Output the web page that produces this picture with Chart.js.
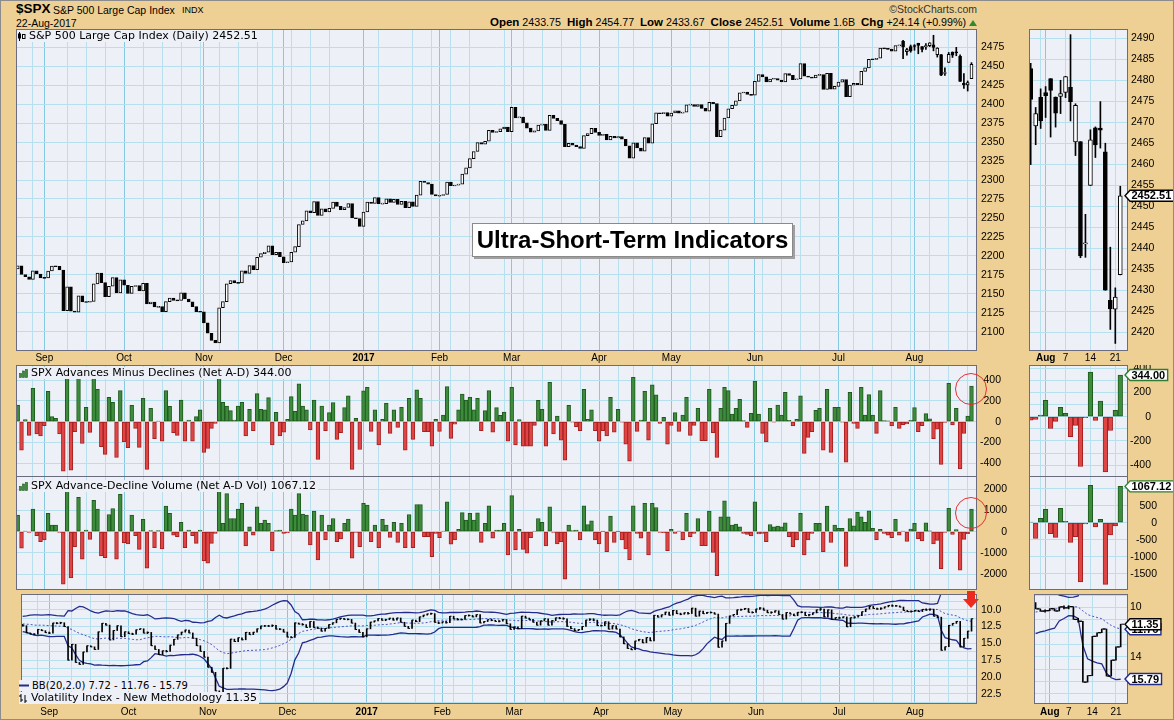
<!DOCTYPE html>
<html>
<head>
<meta charset="utf-8">
<script src="https://cdn.jsdelivr.net/npm/chart.js@4.4.1/dist/chart.umd.min.js"></script>
<style>
  html, body { margin: 0; padding: 0; }
  body { width: 1174px; height: 720px; background: #EFD094; position: relative; overflow: hidden;
         font-family: "Liberation Sans", Arial, sans-serif; }
  canvas { position: absolute; z-index: 1; }
  .t { position: absolute; white-space: nowrap; color: #000; line-height: 1; z-index: 5; }
  .lg { position: absolute; white-space: nowrap; font-family: "DejaVu Sans", Verdana, sans-serif;
        font-size: 11px; line-height: 12px; background: #EEF0F8; z-index: 5; padding-right: 2px;
        display: flex; align-items: center; }
  .lg svg { margin-right: 3px; }
  #frame { position: absolute; left: 0; top: 0; width: 1174px; height: 720px; box-sizing: border-box;
           border: 1px solid #8c8c8c; z-index: 10; pointer-events: none; }
  #banner { position: absolute; left: 472px; top: 223px; width: 319px; height: 32px; background: #fff;
            border: 1px solid #8a8a8a; box-shadow: 2px 2px 0 #a0a0a0; z-index: 6;
            font: bold 24px "Liberation Sans", Arial, sans-serif; line-height: 32px; text-align: center; }
  #marks { position: absolute; left: 0; top: 0; z-index: 7; pointer-events: none; }
  .q b { font-size: 11.5px; }
  .tri { display: inline-block; width: 0; height: 0; border-left: 4px solid transparent;
         border-right: 4px solid transparent; border-bottom: 6px solid #2E8B2E; margin-left: 3px; }
</style>
</head>
<body>
<div class="t" style="left:16px;top:2px;font-size:13.5px;font-weight:bold;">$SPX</div>
<div class="t" style="left:53px;top:5px;font-size:10.5px;">S&amp;P 500 Large Cap Index</div>
<div class="t" style="left:182px;top:6px;font-size:9px;">INDX</div>
<div class="t" style="left:16px;top:18px;font-size:10.5px;">22-Aug-2017</div>
<div class="t" style="right:197px;top:4px;font-size:10.5px;color:#333;">&copy;StockCharts.com</div>
<div class="t q" style="right:197px;top:17px;font-size:10.7px;">
  <b>Open</b> 2433.75&nbsp; <b>High</b> 2454.77&nbsp; <b>Low</b> 2433.67&nbsp; <b>Close</b> 2452.51&nbsp; <b>Volume</b> 1.6B&nbsp; <b>Chg</b> +24.14 (+0.99%)<span class="tri"></span>
</div>

<canvas id="cPrice"></canvas>
<canvas id="cAD"></canvas>
<canvas id="cADV"></canvas>
<canvas id="cVIX"></canvas>
<canvas id="mPrice"></canvas>
<canvas id="mAD"></canvas>
<canvas id="mADV"></canvas>
<canvas id="mVIX"></canvas>

<div class="lg" style="left:17px;top:30px;">
  <svg width="9" height="9"><rect x="1" y="1.5" width="3" height="5" fill="#000"/><rect x="5.5" y="2.5" width="2.5" height="4" fill="#fff" stroke="#000" stroke-width="1"/><line x1="2.5" y1="0" x2="2.5" y2="9" stroke="#000"/></svg>S&amp;P 500 Large Cap Index (Daily) 2452.51</div>
<div class="lg" style="left:19px;top:367px;">
  <svg width="9" height="9"><rect x="0.5" y="4.5" width="2" height="4" fill="#3C8C3C" stroke="#1E5A1E" stroke-width="0.6"/><rect x="3.5" y="2" width="2" height="6.5" fill="#3C8C3C" stroke="#1E5A1E" stroke-width="0.6"/><rect x="6.5" y="0.5" width="2" height="8" fill="#3C8C3C" stroke="#1E5A1E" stroke-width="0.6"/></svg>SPX Advances Minus Declines (Net A-D) 344.00</div>
<div class="lg" style="left:19px;top:480px;">
  <svg width="9" height="9"><rect x="0.5" y="4.5" width="2" height="4" fill="#3C8C3C" stroke="#1E5A1E" stroke-width="0.6"/><rect x="3.5" y="2" width="2" height="6.5" fill="#3C8C3C" stroke="#1E5A1E" stroke-width="0.6"/><rect x="6.5" y="0.5" width="2" height="8" fill="#3C8C3C" stroke="#1E5A1E" stroke-width="0.6"/></svg>SPX Advance-Decline Volume (Net A-D Vol) 1067.12</div>
<div class="lg" style="left:19px;top:680px;font-size:10px;line-height:11px;">
  <svg width="10" height="9"><line x1="0" y1="4.5" x2="10" y2="4.5" stroke="#222C8C" stroke-width="2"/></svg>BB(20,2.0) 7.72 - 11.76 - 15.79</div>
<div class="lg" style="left:19px;top:692px;">
  <svg width="9" height="9"><line x1="2" y1="0" x2="2" y2="8" stroke="#000"/><line x1="0" y1="2" x2="2" y2="2" stroke="#000"/><line x1="2" y1="6" x2="4" y2="6" stroke="#000"/><line x1="6" y1="1" x2="6" y2="9" stroke="#000"/><line x1="6" y1="7" x2="8" y2="7" stroke="#000"/></svg>Volatility Index - New Methodology 11.35</div>

<div id="banner">Ultra-Short-Term Indicators</div>

<svg id="marks" width="1174" height="720">
  <circle cx="971" cy="389" r="15.5" fill="none" stroke="#E53030" stroke-width="1"/>
  <circle cx="971" cy="513" r="15.5" fill="none" stroke="#E53030" stroke-width="1"/>
  <polygon points="967,591 975,591 975,599 979,599 971,608 963,599 967,599" fill="#EC2A1E"/>
</svg>
<div id="frame"></div>

<script>
// ---------------- data ----------------
// exchange holidays inside the window (used to build the trading-day axis)
const holidays = ['2016-09-05', '2016-11-24', '2016-12-26', '2017-01-02', '2017-01-16',
                  '2017-02-20', '2017-04-14', '2017-05-29', '2017-07-04'];
const monthNames = ['Jan', 'Feb', 'Mar', 'Apr', 'May', 'Jun', 'Jul', 'Aug', 'Sep', 'Oct', 'Nov', 'Dec'];

// S&P 500 daily close, 23-Aug-2016 .. 22-Aug-2017
const spxClose = [
  2186.90, 2175.44, 2172.47, 2169.04, 2180.38, 2176.12, 2170.95,
  2170.86, 2179.98, 2186.48, 2186.16, 2181.30, 2127.81, 2159.04, 2127.02, 2125.77, 2147.26, 2139.16,
  2139.12, 2139.76, 2163.12, 2177.18, 2164.69, 2146.10, 2159.93, 2171.37, 2151.13, 2168.27,
  2161.20, 2150.49, 2159.73, 2160.77, 2153.74, 2163.66, 2136.73, 2139.18, 2132.55, 2132.98, 2126.50,
  2139.60, 2144.29, 2141.34, 2141.16, 2151.33, 2143.16, 2139.43, 2133.04, 2126.41, 2126.15,
  2111.72, 2097.94, 2088.66, 2085.18, 2131.52, 2139.56, 2163.26, 2167.48, 2164.45, 2164.20, 2180.39,
  2176.94, 2187.12, 2181.90, 2198.18, 2202.94, 2204.72, 2213.35, 2201.72, 2204.66, 2198.81,
  2191.08, 2191.95, 2204.71, 2212.23, 2241.35, 2246.19, 2259.53, 2256.96, 2271.72, 2253.28, 2262.03,
  2258.07, 2262.53, 2270.76, 2265.18, 2260.96, 2263.79, 2268.88, 2249.92, 2249.26, 2238.83,
  2257.83, 2270.75, 2269.00, 2276.98, 2268.90, 2268.90, 2275.32, 2270.44, 2274.64, 2267.89,
  2271.89, 2263.69, 2271.31, 2265.20, 2280.07, 2298.37, 2296.68, 2294.69, 2280.90, 2278.87,
  2279.55, 2280.85, 2297.42, 2292.56, 2293.08, 2294.67, 2307.87, 2316.10, 2328.25, 2337.58,
  2349.25, 2347.22, 2351.16, 2365.38, 2362.82, 2363.81, 2367.34, 2369.75, 2363.64,
  2395.96, 2381.92, 2383.12, 2375.31, 2368.39, 2362.98, 2364.87, 2372.60, 2373.47, 2365.45, 2385.26,
  2381.38, 2378.25, 2373.47, 2344.02, 2348.45, 2345.96, 2343.98, 2341.59, 2358.57, 2361.13, 2368.06, 2362.72,
  2358.84, 2360.16, 2352.95, 2357.49, 2355.54, 2357.16, 2353.78, 2344.93, 2328.95, 2349.01,
  2342.19, 2338.17, 2355.84, 2348.69, 2374.15, 2388.61, 2387.45, 2388.77, 2384.20,
  2388.33, 2391.17, 2388.13, 2389.52, 2399.29, 2399.38, 2396.92, 2399.63, 2394.44, 2390.90, 2402.32,
  2400.67, 2357.03, 2365.72, 2381.73, 2394.02, 2398.42, 2404.39, 2415.07, 2415.82, 2412.91, 2411.80,
  2430.06, 2439.07, 2436.10, 2429.33, 2433.14, 2433.79, 2431.77, 2429.39, 2440.35, 2437.92, 2432.46,
  2433.15, 2453.46, 2437.03, 2435.61, 2434.50, 2438.30, 2439.07, 2419.38, 2440.69, 2419.70, 2423.41,
  2429.01, 2432.54, 2409.75, 2425.18, 2427.43, 2425.53, 2443.25, 2447.83, 2459.27, 2459.14,
  2460.61, 2473.83, 2473.45, 2472.54, 2469.91, 2477.13, 2477.83, 2475.42, 2472.10, 2470.30,
  2476.35, 2477.57, 2472.16, 2476.83, 2480.91, 2474.92, 2474.02, 2438.21, 2441.32, 2465.84,
  2464.61, 2468.11, 2430.01, 2425.55, 2428.37, 2452.51
];
const spxPrevClose = 2182.64;
// full OHLC for the last 19 sessions (27-Jul .. 22-Aug), shown in the zoom panel
const spxOpenRecent = [2482.76, 2469.12, 2475.94, 2477.10, 2480.38, 2476.03, 2476.14, 2477.14, 2478.35, 2465.35,
                       2465.38, 2441.04, 2454.96, 2468.66, 2468.63, 2462.95, 2427.64, 2425.50, 2433.75];
const spxHighRecent = [2484.04, 2473.53, 2477.96, 2478.51, 2480.38, 2476.03, 2480.00, 2480.95, 2490.87, 2474.41,
                       2465.38, 2448.09, 2468.22, 2468.90, 2474.93, 2465.02, 2440.27, 2430.58, 2454.77];
const spxLowRecent  = [2459.93, 2464.66, 2468.53, 2471.14, 2466.48, 2468.85, 2472.08, 2475.88, 2470.32, 2462.08,
                       2437.75, 2437.85, 2454.96, 2461.61, 2463.86, 2430.01, 2420.69, 2417.35, 2433.67];

// SPX net advances minus declines
const netAD = [
  161, -274, 20, -132, 322, -119, -138, -39, 293, 48,
  32, -119, -476, 470, -467, -97, 470, -210, 138, -103,
  470, 312, -241, -315, 235, 187, -345, 299, -193, -251,
  158, -64, -248, 225, -460, 129, -164, 5, -187, 299,
  148, -106, -132, 209, -187, 16, -187, 48, 113, -296,
  -258, -64, -16, 480, 187, 151, 106, 16, 151, 187,
  -138, 119, -87, 270, 119, 113, 232, -225, 90, -138,
  -100, 23, 241, 100, 364, 151, 113, -80, 209, -364,
  151, -87, 87, 183, -171, -106, 135, 248, -460, 32,
  -268, 296, 332, -93, 113, -225, 23, 177, -113, 113,
  -55, 138, -274, 225, -171, 306, 225, -97, -97, -235,
  23, -93, 64, 338, -161, -23, 113, 267, 209, 235,
  113, 225, -87, 106, 299, -100, 135, 60, 93, -187,
  332, -225, 20, -235, -235, -235, -35, 206, 119, -235,
  380, -119, 55, -177, -370, 158, -3, -48, -87, 312,
  23, 113, -87, -187, -87, -138, 235, -100, 119, -3,
  -216, -380, 428, -93, 16, 293, -177, 354, 258, -16,
  42, -216, -35, 87, -93, 64, 235, -132, -35, 129,
  -184, -184, 312, -106, -345, 129, 332, 299, 74, 129,
  216, 10, -55, 80, 390, 74, -113, -196, 129, -3,
  161, 64, 283, 13, -42, 23, 248, -306, -151, -97,
  109, 129, -274, 312, -296, 138, 138, -3, -390, 283,
  -16, -64, 332, 64, 261, 64, -113, 299, 10, 8,
  -42, 138, -64, -28, -22, 14, 136, -97, -39, 78,
  28, -164, -72, -411, -8, 369, -31, 128, -456, -114,
  53, 344
];

// SPX net advance-decline volume
const netADVol = [
  780, -780, 30, -30, 1060, -190, -470, -390, 860, 310,
  310, -30, -2465, 2300, -2180, -700, 1620, -1290, 80, -360,
  1480, 1060, -1140, -1220, 810, 1090, -1290, 1760, -515, -580,
  780, -190, -830, 580, -1720, 50, -750, 50, -810, 1200,
  860, -160, -230, 440, -750, 80, -190, -550, 80, -1360,
  -1480, -550, -80, 2300, 390, 1790, 620, 620, 1060, 1330,
  -670, 230, -160, 1170, 390, 550, 390, -900, 50, 80,
  -80, -50, 1060, 780, 1790, 830, 780, -620, 970, -1330,
  780, -390, 310, 620, -470, -340, 390, 590, -1250, -30,
  -700, 1330, 1250, -470, 310, -750, 580, 310, -265, 440,
  -500, 390, -750, 810, -750, 1280, 1280, -230, -230, -1170,
  -80, -280, 20, 1400, -590, -390, 110, 900, 550, 860,
  550, 890, -500, 390, 1220, -310, 80, 80, 390, -1090,
  1700, -860, 110, -830, -1010, -280, 20, 620, 440, -670,
  1170, -30, -580, -470, -2230, 310, 50, 80, -390, 1220,
  340, 510, -390, -580, 15, -940, 730, -500, 10, -390,
  -810, -1330, 1220, -80, -300, 1330, -1090, 1330, 1140, -30,
  -50, -890, 110, -80, 20, -390, 860, -230, -80, 620,
  -660, -660, 970, -980, -2070, 700, 1450, 700, 310, 360,
  230, -80, -130, -200, 1400, -110, -80, -470, 340, 230,
  260, 230, 420, -230, -700, -390, 860, -1090, -390, -80,
  390, 390, -940, 1200, -510, 310, 160, 160, -1640, 620,
  280, 920, 700, 440, 980, 160, -390, 110, -80, -160,
  -280, 580, -160, 20, -461, 127, 392, -324, -431, 422,
  39, -578, -412, -1745, -39, 1098, -127, 98, -1814, -363,
  -98, 1067.12
];

// CBOE Volatility Index close; 19 sessions before the window feed the Bollinger Bands
const vixPrior = [12.83, 12.72, 11.87, 12.44, 13.37, 12.86, 12.42, 11.39, 11.50, 11.66,
                  12.05, 11.68, 11.55, 11.81, 12.64, 12.19, 11.43, 11.34, 12.27];
const vixClose = [
  12.38, 13.45, 13.63, 13.65, 12.94, 13.12, 13.42,
  13.48, 11.98, 12.02, 11.94, 12.51, 17.50, 15.16, 17.85, 18.14, 16.30, 15.37, 15.53, 15.92, 13.30,
  12.02, 12.29, 14.50, 13.10, 12.39, 14.02, 13.29,
  13.57, 13.63, 12.99, 12.84, 13.48, 13.38, 15.36, 15.91, 16.69, 16.12, 16.21, 15.28, 14.41, 13.75,
  13.34, 13.02, 13.46, 14.24, 15.36, 16.19, 17.06,
  18.56, 19.32, 22.08, 22.51, 18.71, 18.74, 14.38, 14.74, 14.17, 14.48, 13.37, 13.72, 13.35, 12.85,
  12.42, 12.41, 12.43, 12.34, 12.88, 12.90, 13.33,
  14.07, 14.12, 11.97, 12.14, 12.22, 12.64, 11.75, 12.64, 12.72, 13.19, 12.79, 12.20, 11.95, 11.45,
  11.27, 11.43, 11.44, 11.99, 12.95, 13.37, 14.04,
  12.85, 11.85, 11.67, 11.32, 11.56, 11.49, 11.26, 11.54, 11.23, 11.87, 12.48, 12.78, 11.54, 11.77,
  11.07, 10.81, 10.63, 10.58, 11.88, 11.99,
  11.81, 11.93, 10.97, 11.37, 11.45, 11.45, 10.88, 10.85, 11.07, 10.74, 11.97, 11.76, 11.49, 11.57,
  11.74, 11.71, 11.47, 12.09, 12.92,
  12.54, 12.81, 10.96, 11.24, 11.45, 11.86, 12.30, 11.66, 11.35, 12.30, 11.63, 11.21, 11.28, 11.34,
  12.47, 12.81, 13.12, 12.96, 12.50, 11.53, 11.42, 11.54, 12.37,
  12.38, 11.79, 12.89, 12.39, 12.87, 14.05, 15.07, 15.77, 15.96, 14.66, 14.42, 14.93, 14.15, 14.63,
  10.84, 11.10, 10.76, 10.36, 10.82,
  10.11, 10.59, 10.68, 10.46, 10.57, 9.77, 10.96, 10.21, 10.60, 10.40, 10.42, 10.65, 15.59, 14.66,
  12.04, 10.93, 10.72, 10.02, 9.99, 9.81, 10.38, 10.41,
  9.89, 9.75, 10.07, 10.45, 10.39, 10.16, 10.70, 11.40, 10.42, 10.64, 10.90, 10.38, 10.37, 10.86,
  10.75, 10.48, 10.02, 9.90, 11.06, 10.03, 11.44, 11.18,
  11.22, 11.07, 12.54, 11.19, 11.11, 10.89, 10.30, 9.90, 9.51, 9.82, 9.89, 9.79, 9.58, 9.36,
  9.43, 9.43, 9.60, 10.11, 10.29, 10.26,
  10.09, 10.28, 9.95, 10.03, 9.93, 10.96, 11.11, 16.04, 15.51, 12.33, 12.04, 11.74, 15.55, 14.26,
  13.19, 11.35
];
// latest Bollinger Band readings as printed on the chart: lower, middle, upper
const bbLatest = [7.72, 11.76, 15.79];

// axis tick labels
const priceTicks = [2100, 2125, 2150, 2175, 2200, 2225, 2250, 2275, 2300, 2325, 2350, 2375, 2400, 2425, 2450, 2475];
const adTicks = [-400, -200, 0, 200, 400];
const advTicks = [-2000, -1000, 0, 1000, 2000];
const vixTicks = [10, 12.5, 15, 17.5, 20, 22.5];
const miniPriceTicks = [2420, 2425, 2430, 2435, 2440, 2445, 2450, 2455, 2460, 2465, 2470, 2475, 2480, 2485, 2490];
const miniAdTicks = [-400, -200, 0, 200, 400];
const miniAdvTicks = [-1500, -1000, -500, 0, 500, 1000];
const miniVixTicks = [10, 12, 14, 16];
const miniDateTicks = [{ i: 3, t: 'Aug', bold: true }, { i: 7, t: '7' }, { i: 12, t: '14' }, { i: 17, t: '21' }];

// ---------------- derived series ----------------
const tradingDays = [];
for (let t = Date.UTC(2016, 7, 23); t <= Date.UTC(2017, 7, 22); t += 86400000) {
  const d = new Date(t);
  const wd = d.getUTCDay();
  if (wd === 0 || wd === 6 || holidays.includes(d.toISOString().slice(0, 10))) continue;
  tradingDays.push(d);
}
const N = spxClose.length;
const R = spxOpenRecent.length;
const idx = [...Array(N).keys()];
const recentIdx = idx.slice(N - R);

const monthStart = new Set(idx.filter(i => i > 0 && tradingDays[i].getUTCMonth() !== tradingDays[i - 1].getUTCMonth()));
const gridDays = idx.filter(i => monthStart.has(i) || tradingDays[i].getUTCDay() === 1);
const monthLabels = [...monthStart].map(i => {
  const m = tradingDays[i].getUTCMonth();
  return m === 0 ? { i, t: String(tradingDays[i].getUTCFullYear()), bold: true } : { i, t: monthNames[m] };
});

const spxOpen = idx.map(i => i >= N - R ? spxOpenRecent[i - N + R] : (i === 0 ? spxPrevClose : spxClose[i - 1]));
const spxHigh = idx.map(i => i >= N - R ? spxHighRecent[i - N + R] : Math.max(spxOpen[i], spxClose[i]));
const spxLow = idx.map(i => i >= N - R ? spxLowRecent[i - N + R] : Math.min(spxOpen[i], spxClose[i]));

const P = vixPrior.length;
const vixSeries = vixPrior.concat(vixClose);
const vixOpen = idx.map(i => vixSeries[i + P - 1]);
const bbMid = [], bbUp = [], bbLo = [];
idx.forEach(i => {
  const win = vixSeries.slice(i + P - 19, i + P + 1);
  const m = win.reduce((s, v) => s + v, 0) / win.length;
  const sd = Math.sqrt(win.reduce((s, v) => s + (v - m) * (v - m), 0) / win.length);
  bbMid.push(m); bbUp.push(m + 2 * sd); bbLo.push(m - 2 * sd);
});

// ---------------- drawing helpers ----------------
const PLOT_BG = '#EEF0F8';
const GRID = '#B6E0EE';
const GRID_MONTH = '#85C8E2';
const FRAME = '#6C6C80';
const UP_FILL = '#3C8C3C', UP_LINE = '#1E5A1E';
const DN_FILL = '#E04545', DN_LINE = '#A52020';
const BAND = '#222C8C';

function steps(a, b, s) {
  const out = [];
  for (let v = a; v <= b + 1e-9; v += s) out.push(+v.toFixed(4));
  return out;
}

function drawTag(ctx, x, y, text, color) {
  ctx.font = 'bold 11px "Liberation Sans", Arial';
  const w = ctx.measureText(text).width + 3;
  ctx.beginPath();
  ctx.moveTo(x, y);
  ctx.lineTo(x + 5, y - 5.5);
  ctx.lineTo(x + 6 + w, y - 5.5);
  ctx.lineTo(x + 6 + w, y + 5.5);
  ctx.lineTo(x + 5, y + 5.5);
  ctx.closePath();
  ctx.fillStyle = '#fff';
  ctx.fill();
  ctx.lineWidth = 1.4;
  ctx.strokeStyle = color;
  ctx.stroke();
  ctx.fillStyle = '#000';
  ctx.textAlign = 'left';
  ctx.textBaseline = 'middle';
  ctx.fillText(text, x + 6.5, y + 0.5);
}

const decoConfig = {};
const decoPlugin = {
  id: 'deco',
  beforeDraw(chart) {
    const { ctx, chartArea: a } = chart;
    ctx.save();
    ctx.fillStyle = PLOT_BG;
    ctx.fillRect(a.left, a.top, a.right - a.left, a.bottom - a.top);
    ctx.restore();
  },
  afterDraw(chart) {
    const o = decoConfig[chart.canvas.id];
    const { ctx, chartArea: a, scales } = chart;
    ctx.save();
    ctx.strokeStyle = FRAME;
    ctx.lineWidth = 1;
    ctx.strokeRect(a.left + 0.5, a.top + 0.5, a.right - a.left - 1, a.bottom - a.top - 1);
    ctx.fillStyle = '#000';
    ctx.textBaseline = 'middle';
    ctx.font = '10.5px "Liberation Sans", Arial';
    ctx.textAlign = o.yAlign;
    o.yLabels.forEach(v => {
      ctx.fillText(o.dec ? v.toFixed(o.dec) : String(v), a.right + o.yOff, scales.y.getPixelForValue(v));
    });
    (o.xLabels || []).forEach(l => {
      ctx.font = (l.bold ? 'bold ' : '') + '10px "Liberation Sans", Arial';
      ctx.textAlign = 'center';
      ctx.fillText(l.t, scales.x.getPixelForValue(l.i), a.bottom + o.xOff);
    });
    (o.tags || []).forEach(t => drawTag(ctx, a.right - 3, scales.y.getPixelForValue(t.v), t.v.toFixed(2), t.color));
    ctx.restore();
  }
};

function makePanel(id, box, xr, yr, datasets, deco) {
  const cv = document.getElementById(id);
  const W = box.w + deco.padR, H = box.h + deco.padB;
  cv.width = W;
  cv.height = H;
  Object.assign(cv.style, { left: box.x + 'px', top: box.y + 'px', width: W + 'px', height: H + 'px' });
  decoConfig[id] = deco;
  return new Chart(cv, {
    type: 'bar',
    data: { datasets },
    options: {
      responsive: false,
      animation: false,
      events: [],
      layout: { padding: { left: 0, top: 0, right: deco.padR, bottom: deco.padB } },
      plugins: { legend: { display: false }, tooltip: { enabled: false } },
      scales: {
        x: {
          type: 'linear', min: xr[0], max: xr[1], offset: false,
          ticks: { display: false }, border: { display: false },
          afterBuildTicks: s => { s.ticks = deco.gridX.map(v => ({ value: v })); },
          grid: { drawTicks: false, offset: false, color: c => deco.monthX.has(c.tick.value) ? GRID_MONTH : GRID }
        },
        y: {
          type: 'linear', min: yr[0], max: yr[1], reverse: !!deco.reverse,
          ticks: { display: false }, border: { display: false },
          afterBuildTicks: s => { s.ticks = deco.gridY.map(v => ({ value: v })); },
          grid: { drawTicks: false, color: GRID }
        }
      }
    },
    plugins: [decoPlugin]
  });
}

function candleSets(list, shift, thick) {
  const minBody = thick > 3 ? 0.25 : 1.3;
  return [
    {
      type: 'bar', order: 1, grouped: false, barThickness: thick, borderWidth: 1, borderSkipped: false,
      borderColor: '#000',
      backgroundColor: list.map(i => spxClose[i] >= spxOpen[i] ? '#fff' : '#000'),
      data: list.map(i => {
        let lo = Math.min(spxOpen[i], spxClose[i]), hi = Math.max(spxOpen[i], spxClose[i]);
        if (hi - lo < minBody) { const m = (hi + lo) / 2; lo = m - minBody / 2; hi = m + minBody / 2; }
        return { x: i - shift, y: [lo, hi] };
      })
    },
    {
      type: 'bar', order: 2, grouped: false, barThickness: 1, backgroundColor: '#000',
      data: recentIdx.filter(i => list.includes(i)).map(i => ({ x: i - shift, y: [spxLow[i], spxHigh[i]] }))
    }
  ];
}

function histSet(values, list, shift, thick) {
  return [{
    type: 'bar', grouped: false, barThickness: thick, borderWidth: 1, borderSkipped: false,
    backgroundColor: list.map(i => values[i] >= 0 ? UP_FILL : DN_FILL),
    borderColor: list.map(i => values[i] >= 0 ? UP_LINE : DN_LINE),
    data: list.map(i => ({ x: i - shift, y: values[i] }))
  }];
}

function vixSets(list, shift, tick, bothTicks) {
  const sets = [
    {
      type: 'bar', order: 1, grouped: false, barThickness: 1, backgroundColor: '#000',
      data: list.map(i => {
        let lo = Math.min(vixOpen[i], vixClose[i]), hi = Math.max(vixOpen[i], vixClose[i]);
        if (hi - lo < 0.15) { lo -= 0.08; hi += 0.08; }
        return { x: i - shift, y: [lo, hi] };
      })
    },
    {
      type: 'scatter', order: 1, pointStyle: 'line', pointRadius: tick, borderColor: '#000', borderWidth: 1,
      data: list.map(i => ({ x: i - shift + tick * 0.3, y: vixClose[i] }))
    },
    { type: 'line', order: 3, borderColor: BAND, borderWidth: 1.3, pointRadius: 0, fill: false,
      data: list.map(i => ({ x: i - shift, y: bbUp[i] })) },
    { type: 'line', order: 3, borderColor: BAND, borderWidth: 1.3, pointRadius: 0, fill: false,
      data: list.map(i => ({ x: i - shift, y: bbLo[i] })) },
    { type: 'line', order: 3, borderColor: '#4A56BC', borderWidth: 1, borderDash: [2, 2], pointRadius: 0, fill: false,
      data: list.map(i => ({ x: i - shift, y: bbMid[i] })) }
  ];
  if (bothTicks) {
    sets.push({
      type: 'scatter', order: 1, pointStyle: 'line', pointRadius: tick, borderColor: '#000', borderWidth: 1,
      data: list.map(i => ({ x: i - shift - tick * 0.3, y: vixOpen[i] }))
    });
  }
  return sets;
}

// ---------------- layout ----------------
const L = { x: 16, w: 961 };
const M = { x: 1029, w: 99 };
const rows = {
  price: { y: 29, h: 322 },
  ad: { y: 365, h: 112 },
  adv: { y: 476, h: 114 },
  vix: { y: 589, h: 115 }
};
const xMain = [-0.45, N - 1 + 1.45];
const xMini = [-0.34, R - 1 + 1.55];

const gridMain = { gridX: gridDays, monthX: monthStart };
const miniShift = N - R;
const gridMini = {
  gridX: gridDays.filter(i => i >= miniShift).map(i => i - miniShift),
  monthX: new Set([...monthStart].filter(i => i >= miniShift).map(i => i - miniShift))
};

makePanel('cPrice', { ...L, ...rows.price }, xMain, [2074.55, 2499.13], candleSets(idx, 0, 3),
  { ...gridMain, gridY: steps(2075, 2500, 25), yLabels: priceTicks, yAlign: 'left', yOff: 4,
    xLabels: monthLabels, xOff: 7, padR: 36, padB: 14 });
makePanel('cAD', { ...L, ...rows.ad }, xMain, [-533, 546], histSet(netAD, idx, 0, 3.8),
  { ...gridMain, gridY: steps(-400, 400, 200), yLabels: adTicks, yAlign: 'right', yOff: 24, padR: 36, padB: 0 });
makePanel('cADV', { ...L, ...rows.adv }, xMain, [-2744, 2621], histSet(netADVol, idx, 0, 3.8),
  { ...gridMain, gridY: steps(-2000, 2000, 1000), yLabels: advTicks, yAlign: 'right', yOff: 30, padR: 36, padB: 0 });
makePanel('cVIX', { ...L, ...rows.vix }, xMain, [7.66, 24.04], vixSets(idx, 0, 0.8, false),
  { ...gridMain, gridY: steps(8.75, 23.75, 1.25), yLabels: vixTicks, yAlign: 'left', yOff: 4, dec: 1,
    reverse: true, xLabels: monthLabels, xOff: 8, padR: 36, padB: 16 });

makePanel('mPrice', { ...M, ...rows.price }, xMini, [2415.55, 2492.21], candleSets(recentIdx, miniShift, 4),
  { ...gridMini, gridY: steps(2420, 2490, 5), yLabels: miniPriceTicks, yAlign: 'left', yOff: 3,
    xLabels: miniDateTicks, xOff: 7, padR: 46, padB: 14,
    tags: [{ v: spxClose[N - 1], color: '#000' }] });
makePanel('mAD', { ...M, ...rows.ad }, xMini, [-497.5, 426.6], histSet(netAD, recentIdx, miniShift, 4.6),
  { ...gridMini, gridY: steps(-400, 400, 100), yLabels: miniAdTicks, yAlign: 'right', yOff: 23, padR: 46, padB: 0,
    tags: [{ v: netAD[N - 1], color: '#2E7D32' }] });
makePanel('mADV', { ...M, ...rows.adv }, xMini, [-1979, 1373], histSet(netADVol, recentIdx, miniShift, 4.6),
  { ...gridMini, gridY: steps(-1500, 1000, 500), yLabels: miniAdvTicks, yAlign: 'right', yOff: 29, padR: 46, padB: 0,
    tags: [{ v: netADVol[N - 1], color: '#2E7D32' }] });
makePanel('mVIX', { ...M, ...rows.vix }, xMini, [8.906, 17.81], vixSets(recentIdx, miniShift, 1.5, true),
  { ...gridMini, gridY: steps(9, 17, 1), yLabels: miniVixTicks, yAlign: 'left', yOff: 2, reverse: true,
    xLabels: miniDateTicks, xOff: 8, padR: 46, padB: 16,
    tags: [
      { v: bbLatest[1], color: BAND },
      { v: vixClose[N - 1], color: '#000' },
      { v: bbLatest[2], color: BAND }
    ] });
</script>
</body>
</html>
